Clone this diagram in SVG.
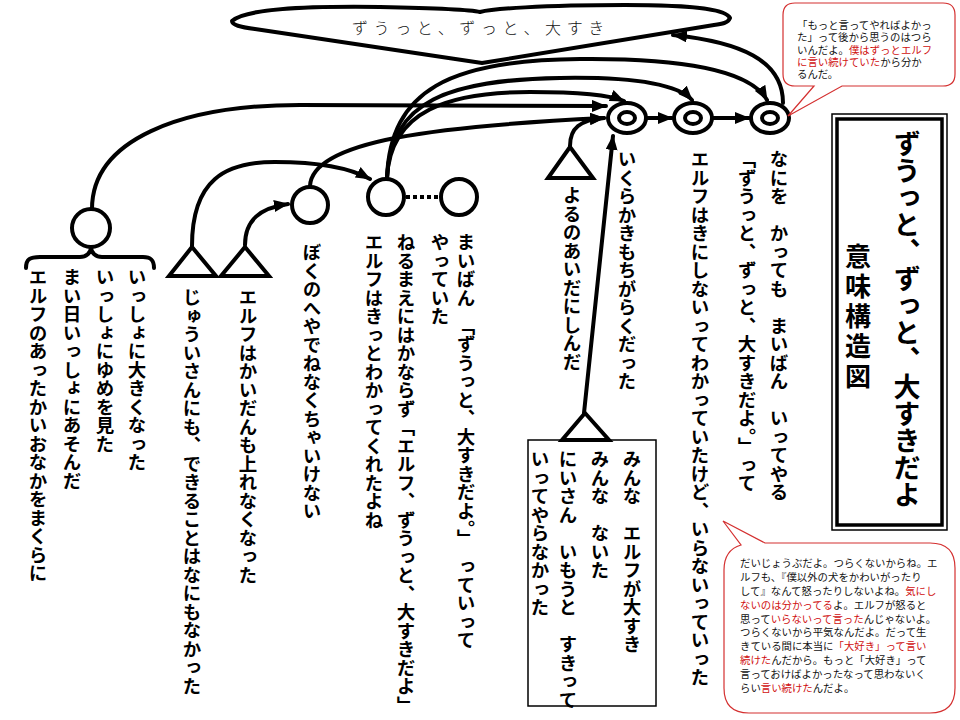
<svg xmlns="http://www.w3.org/2000/svg" width="960" height="720" viewBox="0 0 960 720">
<style>
.v{writing-mode:vertical-rl;font-family:"Noto Sans CJK JP","Noto Sans CJK SC",sans-serif;font-weight:700;font-size:18.5px;fill:#000}
.ln{fill:none;stroke:#000;stroke-width:4;stroke-linecap:round}
.dot{fill:none;stroke:#000;stroke-width:4;stroke-dasharray:4 3;stroke-linecap:butt}
.nd{fill:#fff;stroke:#000;stroke-width:4}
.ct{font-family:"Noto Sans CJK JP",sans-serif;font-size:10.4px;fill:#111}
.r{fill:#d01010}
.co{fill:#fff;stroke:#d43030;stroke-width:1.2}
.big{font-size:27px}
.sub{font-size:26px;letter-spacing:4px}
</style>
<defs>
<marker id="ah" markerUnits="userSpaceOnUse" markerWidth="16" markerHeight="12" refX="14" refY="6" orient="auto">
<path d="M0,0 L15,6 L0,12 Z" fill="#000"/>
</marker>
</defs>
<rect width="960" height="720" fill="#fff"/>

<g id="banner">
<path d="M232,21 C245,9 300,6 380,7 C430,8 468,9 480,12 C492,9 540,5 625,5 C700,5 726,10 730,18 C728,23 722,24 714,25 L482,63 L255,29 C240,27 232,25 232,21 Z" fill="#fff" stroke="#000" stroke-width="4" stroke-linejoin="round"/>
<text x="352" y="34" font-family="'Noto Sans CJK JP',sans-serif" font-weight="300" font-size="16" letter-spacing="5.6" fill="#111">ずうっと、ずっと、大すき</text>
</g>

<g id="connectors">
<path class="ln" d="M92,209 C92,140 180,105 300,105 L606,106" marker-end="url(#ah)"/>
<path class="ln" d="M310,186 C312,140 440,126 604,118" marker-end="url(#ah)"/>
<path class="ln" d="M192,246 C192,180 225,162 275,162 C320,162 350,168 370,179" marker-end="url(#ah)"/>
<path class="ln" d="M245,245 C245,220 260,208 288,204" marker-end="url(#ah)"/>
<path class="ln" d="M387,178 C390,110 450,92 530,92 C580,92 610,95 624,101" marker-end="url(#ah)"/>
<path class="ln" d="M387,178 C390,100 450,80 560,78 C620,77 675,82 692,100" marker-end="url(#ah)"/>
<path class="ln" d="M387,178 C390,90 450,60 580,59 C680,58 750,70 767,100" marker-end="url(#ah)"/>
<path class="ln" d="M570,146 C570,128 580,120 604,118" marker-end="url(#ah)"/>
<path class="ln" d="M647,118 L672,118" marker-end="url(#ah)"/>
<path class="ln" d="M713,118 L749,118" marker-end="url(#ah)"/>
<path class="ln" d="M584,413 L613,136" marker-end="url(#ah)"/>
<path class="ln" d="M783,103 C783,60 740,42 673,35" marker-end="url(#ah)"/>
<path class="dot" d="M406,197 L440,197"/>
</g>

<g id="nodeA">
<circle class="nd" cx="91" cy="228" r="19"/>
<path class="ln" d="M26,268 C26,259 30,257 40,257 L80,257 C86,257 91,253 91,247 C91,253 96,257 102,257 L143,257 C151,257 154,260 154,268"/>
<text class="v" x="137" y="268">いっしょに大きくなった</text>
<text class="v" x="105" y="268">いっしょにゆめを見た</text>
<text class="v" x="72" y="268">まい日いっしょにあそんだ</text>
<text class="v" x="38" y="268">エルフのあったかいおなかをまくらに</text>
</g>

<g id="nodeT1">
<path class="nd" d="M192,247 L216,276 L169,276 Z"/>
<text class="v" x="192" y="288">じゅういさんにも、できることはなにもなかった</text>
</g>

<g id="nodeT2">
<path class="nd" d="M245,247 L269,276 L221,276 Z"/>
<text class="v" x="248" y="288">エルフはかいだんも上れなくなった</text>
</g>

<g id="nodeB">
<circle class="nd" cx="310" cy="205" r="18"/>
<text class="v" x="312" y="243">ぼくのへやでねなくちゃいけない</text>
</g>

<g id="nodeC">
<circle class="nd" cx="386" cy="197" r="18"/>
<text class="v" x="374" y="233">エルフはきっとわかってくれたよね</text>
<text class="v" x="406" y="233">ねるまえにはかならず「エルフ、ずうっと、大すきだよ」</text>
</g>

<g id="nodeD">
<circle class="nd" cx="459" cy="197" r="18"/>
<text class="v" x="440" y="233">やっていた</text>
<text class="v" x="466" y="233">まいばん　「ずうっと、大すきだよ。」　っていって</text>
</g>

<g id="nodeT3">
<path class="nd" d="M570,147 L593,178 L548,178 Z"/>
<text class="v" x="572" y="186">よるのあいだにしんだ</text>
</g>

<g id="nodeT4">
<rect x="528" y="440" width="128" height="266" fill="#fff" stroke="#000" stroke-width="1.5"/>
<path class="nd" d="M585,413 L609,440 L562,440 Z"/>
<text class="v" x="632" y="450">みんな　エルフが大すき</text>
<text class="v" x="600" y="450">みんな　ないた</text>
<text class="v" x="568" y="450">にいさん　いもうと　すきって</text>
<text class="v" x="540" y="450">いってやらなかった</text>
</g>

<g id="nodeE1">
<ellipse class="nd" cx="627" cy="118" rx="19" ry="15"/>
<ellipse class="nd" cx="627" cy="118" rx="8" ry="6"/>
<text class="v" x="627" y="150">いくらかきもちがらくだった</text>
</g>

<g id="nodeE2">
<ellipse class="nd" cx="693" cy="118" rx="19" ry="15"/>
<ellipse class="nd" cx="693" cy="118" rx="8" ry="6"/>
<text class="v" x="700" y="150">エルフはきにしないってわかっていたけど、いらないっていった</text>
</g>

<g id="nodeE3">
<ellipse class="nd" cx="770" cy="118" rx="19" ry="15"/>
<ellipse class="nd" cx="770" cy="118" rx="8" ry="6"/>
<text class="v" x="747" y="150">「ずうっと、ずっと、大すきだよ。」って</text>
<text class="v" x="779" y="150">なにを　かっても　まいばん　いってやる</text>
</g>

<g id="title">
<rect x="832" y="114" width="115" height="416" fill="#fff" stroke="#000" stroke-width="1.5"/>
<rect x="837" y="119" width="105" height="406" fill="none" stroke="#000" stroke-width="3.5"/>
<text class="v big" x="907" y="130">ずうっと、ずっと、大すきだよ</text>
<text class="v sub" x="858" y="243">意味構造図</text>
</g>

<g id="callout1">
<path class="co" d="M795,3 H943 Q955,3 955,15 V74 Q955,86 943,86 H842 L788,116 L814,86 H795 Q783,86 783,74 V15 Q783,3 795,3 Z"/>
<text class="ct"><tspan x="797" y="29">「もっと言ってやればよかっ</tspan><tspan x="797" y="41.3">た」って後から思うのはつら</tspan><tspan x="797" y="53.6">いんだよ。<tspan class="r">僕はずっとエルフ</tspan></tspan><tspan x="797" y="66"><tspan class="r">に言い続けていた</tspan>から分か</tspan><tspan x="797" y="78">るんだ。</tspan></text>
</g>

<g id="callout2">
<path class="co" d="M765,543 H930 Q955,543 955,568 V688 Q955,713 930,713 H749 Q724,713 724,688 V570 Q724,550 741,545 L723,521 Z"/>
<text class="ct"><tspan x="740" y="567">だいじょうぶだよ。つらくないからね。エ</tspan><tspan x="740" y="581">ルフも、『僕以外の犬をかわいがったり</tspan><tspan x="740" y="595">して』なんて怒ったりしないよね。<tspan class="r">気にし</tspan></tspan><tspan x="740" y="609"><tspan class="r">ないのは分かってる</tspan>よ。エルフが怒ると</tspan><tspan x="740" y="623">思って<tspan class="r">いらないって言った</tspan>んじゃないよ。</tspan><tspan x="740" y="636">つらくないから平気なんだよ。だって生</tspan><tspan x="740" y="650">きている間に本当に<tspan class="r">「大好き」って言い</tspan></tspan><tspan x="740" y="664"><tspan class="r">続けた</tspan>んだから。もっと「大好き」って</tspan><tspan x="740" y="678">言っておけばよかったなって思わないく</tspan><tspan x="740" y="692">らい<tspan class="r">言い続けた</tspan>んだよ。</tspan></text>
</g>
</svg>
